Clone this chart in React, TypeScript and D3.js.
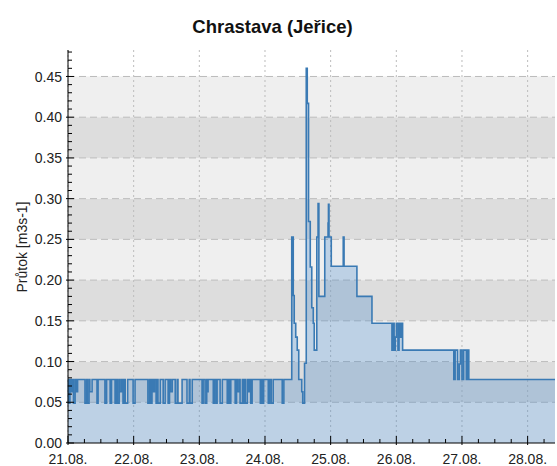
import React from "react";
import * as d3 from "d3";

const TITLE = "Chrastava (Jeřice)";
const Y_LABEL = "Průtok [m3s-1]";
const START = new Date(2023, 7, 21, 0, 0);
const END_HOURS = 178;
const BASE_LEVEL = 0.078;

// flicker period: dips below the base level [start hour, end hour]
const dipStart = [0.2, 1.1, 2.0, 3.1, 6.2, 7.1, 8.0, 10.6, 13.5, 15.4, 17.2, 18.1, 19.0, 20.1, 20.9, 23.8, 29.2, 30.2, 31.1, 32.2, 32.9, 34.8, 36.6, 37.5, 39.2, 40.2, 43.5, 44.6, 49.0, 50.1, 50.9, 53.1, 54.2, 55.6, 58.2, 59.1, 61.1, 62.0, 62.9, 64.0, 64.8, 65.9, 66.8, 70.3, 71.2, 73.2, 74.3, 78.3];
const dipEnd = [0.7, 1.6, 2.6, 3.5, 6.8, 7.7, 8.8, 11.0, 14.1, 15.9, 17.7, 18.7, 19.6, 20.5, 21.8, 24.5, 29.8, 30.7, 31.6, 32.6, 33.7, 35.5, 37.1, 38.1, 39.9, 41.7, 44.3, 45.4, 49.4, 50.7, 51.2, 53.6, 54.5, 56.4, 58.7, 59.5, 61.6, 62.6, 63.7, 64.4, 65.5, 66.4, 67.3, 70.8, 71.5, 73.7, 75.0, 78.9];
const dipValue = [0.049, 0.063, 0.049, 0.063, 0.049, 0.049, 0.063, 0.049, 0.049, 0.049, 0.049, 0.049, 0.063, 0.049, 0.049, 0.049, 0.049, 0.049, 0.063, 0.049, 0.049, 0.049, 0.049, 0.063, 0.049, 0.049, 0.049, 0.049, 0.049, 0.049, 0.063, 0.049, 0.049, 0.049, 0.049, 0.049, 0.049, 0.063, 0.049, 0.049, 0.049, 0.063, 0.049, 0.049, 0.049, 0.049, 0.049, 0.049];

// flood wave: step changes [hour, value]
const stepHours = [81.78, 82.33, 82.69, 83.24, 83.79, 84.34, 85.44, 85.8, 86.46, 87.08, 87.45, 87.92, 88.55, 89.1, 89.65, 90.0, 90.93, 91.4, 91.7, 93.85, 95.05, 95.2, 95.4, 96.23, 100.6, 100.9, 105.6, 111.1, 118.4, 118.9, 119.2, 119.6, 120.0, 120.6, 121.0, 121.4, 121.8, 122.3, 141.0, 141.5, 142.4, 143.0, 143.4, 144.0, 144.6, 145.6, 146.0, 146.5];
const stepValues = [0.253, 0.181, 0.147, 0.130, 0.114, 0.078, 0.063, 0.049, 0.098, 0.460, 0.417, 0.272, 0.216, 0.166, 0.147, 0.114, 0.253, 0.294, 0.180, 0.253, 0.270, 0.293, 0.253, 0.217, 0.253, 0.217, 0.180, 0.147, 0.114, 0.147, 0.114, 0.130, 0.147, 0.114, 0.147, 0.130, 0.147, 0.114, 0.078, 0.114, 0.078, 0.097, 0.114, 0.078, 0.114, 0.078, 0.114, 0.078];

const W = 557;
const H = 466;
const M = { left: 68, right: 555, top: 50, bottom: 443 };
const FONT = "'Liberation Sans', Arial, sans-serif";

const toDate = (h: number) => new Date(START.getTime() + h * 3600e3);

type Pt = { t: Date; v: number };

function buildSeries(): Pt[] {
  const pts: Pt[] = [{ t: toDate(0), v: BASE_LEVEL }];
  dipStart.forEach((s, i) => {
    pts.push({ t: toDate(s), v: dipValue[i] });
    pts.push({ t: toDate(dipEnd[i]), v: BASE_LEVEL });
  });
  stepHours.forEach((h, i) => pts.push({ t: toDate(h), v: stepValues[i] }));
  pts.push({ t: toDate(END_HOURS), v: stepValues[stepValues.length - 1] });
  return pts;
}

export default function App() {
  const data = buildSeries();
  const x = d3.scaleTime().domain([START, toDate(END_HOURS)]).range([M.left, M.right]);
  const y = d3.scaleLinear().domain([0, 0.4825]).range([M.bottom, M.top]);

  const line = d3.line<Pt>().x(d => x(d.t)).y(d => y(d.v)).curve(d3.curveStepAfter);
  const area = d3.area<Pt>().x(d => x(d.t)).y0(y(0)).y1(d => y(d.v)).curve(d3.curveStepAfter);

  const yMajor = d3.range(0, 10).map(i => i * 0.05);
  const yMinor = d3.range(0, 49).map(i => i / 100);
  const xTicks = d3.timeHour.every(6)!.range(START, new Date(toDate(END_HOURS).getTime() + 1));
  const dayTicks = xTicks.filter(t => t.getHours() === 0);
  const fmt = d3.timeFormat("%d.%m.");

  return (
    <svg width={W} height={H} style={{ position: "absolute", left: 0, top: 0, background: "#fff" }} fontFamily={FONT}>
      {d3.range(0, 9).map(k => (
        <rect key={"b" + k} x={M.left} width={M.right - M.left}
          y={y((k + 1) * 0.05)} height={y(k * 0.05) - y((k + 1) * 0.05)}
          fill={k % 2 === 0 ? "#efefef" : "#dddddd"} />
      ))}
      {yMajor.filter(v => v > 0).map(v => (
        <line key={"gy" + v} x1={M.left} x2={M.right} y1={y(v)} y2={y(v)}
          stroke="#bcbcbc" strokeWidth={1} strokeDasharray="7,4" />
      ))}
      {dayTicks.map(t => (
        <line key={"gx" + t.getTime()} x1={x(t)} x2={x(t)} y1={M.top} y2={M.bottom}
          stroke="#bcbcbc" strokeWidth={1} strokeDasharray="2,3" />
      ))}
      <path d={area(data) || ""} fill="rgba(40,120,200,0.25)" />
      <path d={line(data) || ""} fill="none" stroke="#3a7ab4" strokeWidth={1.6} />
      <line x1={M.left} x2={M.left} y1={M.top} y2={M.bottom} stroke="#000" />
      <line x1={M.left} x2={M.right} y1={M.bottom} y2={M.bottom} stroke="#000" />
      {yMinor.map((v, i) => (
        <line key={"ym" + i} x1={i % 5 === 0 ? M.left - 2 : M.left} x2={M.left + (i % 5 === 0 ? 6 : 4)}
          y1={y(v)} y2={y(v)} stroke="#000" />
      ))}
      {xTicks.map(t => {
        const major = t.getHours() === 0;
        return (
          <line key={"xt" + t.getTime()} x1={x(t)} x2={x(t)} y1={M.bottom + (major ? 2 : 0)} y2={M.bottom - (major ? 7 : 4)} stroke="#000" />
        );
      })}
      {yMajor.map(v => (
        <text key={"yl" + v} x={M.left - 6} y={y(v)} dy="0.36em" textAnchor="end" fontSize={14} fill="#222">
          {v.toFixed(2)}
        </text>
      ))}
      {dayTicks.map(t => (
        <text key={"xl" + t.getTime()} x={x(t)} y={464} textAnchor="middle" fontSize={14} fill="#222">
          {fmt(t)}
        </text>
      ))}
      <text transform={`translate(27,247) rotate(-90)`} textAnchor="middle" fontSize={14} fill="#222">{Y_LABEL}</text>
      <text x={272.5} y={33} textAnchor="middle" fontSize={18.5} fontWeight="bold" fill="#111">{TITLE}</text>
    </svg>
  );
}
